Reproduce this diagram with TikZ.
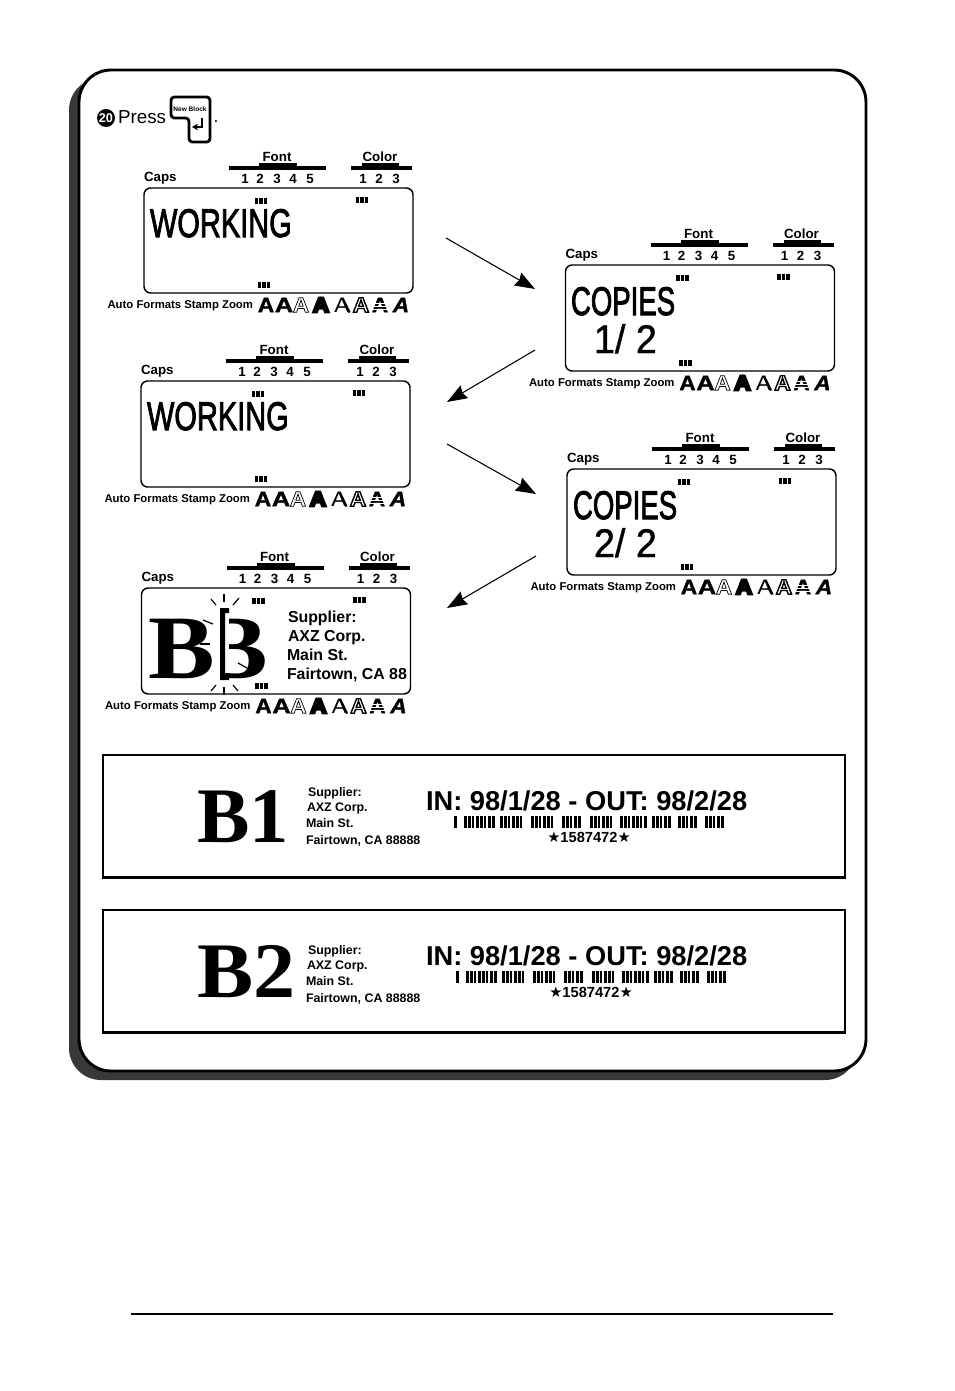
\documentclass[tikz,border=0pt]{standalone}
\usepackage{fontspec}
\setmainfont{Liberation Sans}
\newfontfamily\labelserif{Liberation Serif}
\newfontfamily\starfont{DejaVu Sans}
\usetikzlibrary{arrows.meta,positioning}
\newcommand{\strokeA}[2]{\special{pdf:code q #1 Tr #2 w}A\special{pdf:code Q}}
\newcommand{\thick}[2][0.75]{\special{pdf:code q 2 Tr #1 w}#2\special{pdf:code Q}}
\newcommand{\sz}[1]{\fontsize{#1}{#1}\selectfont}
\tikzset{
	txt/.style={inner sep=0pt,outer sep=0pt},
	lcdlabel/.style={txt,font=\sz{10}\bfseries},
	lcdnum/.style={txt,font=\sz{10}\bfseries},
	lcdbox/.style={draw,line width=1.1pt,rounded corners=5pt,inner sep=0pt,outer sep=0pt,minimum width=201.75pt,anchor=north west},
	lcdbig/.style={txt,anchor=base west,font=\sz{30},xscale=0.725,transform shape},
	lcdsmall/.style={txt,anchor=base west,font=\sz{11.9}\bfseries},
	glyph/.style={txt,font=\sz{15.7}\bfseries,xscale=1.08,transform shape},
	bar/.style={line width=2.4pt},
	flow/.style={line width=0.8pt,-{Stealth[length=15pt,width=11pt,inset=1.5pt]}},
	tape/.style={draw,line width=1.8pt,inner sep=0pt,outer sep=0pt,minimum width=556.5pt,minimum height=92pt,anchor=north west},
	tapesmall/.style={txt,anchor=base west,font=\sz{9.3}\bfseries},
	tapehead/.style={txt,anchor=base west,font=\sz{20.45}\bfseries},
	tapebig/.style={txt,anchor=base west,font=\sz{59}\labelserif\bfseries},
}
\newcommand{\lcdpanel}[4]{
	\begin{scope}[shift={(#2,#3)}]
	\node[lcdbox,minimum height=#4*0.75pt] (#1) at (0,0) {};
	\node[lcdlabel,anchor=west] (#1caps) at (0,-10) {Caps};
	\node[lcdlabel] (#1font) at (133,-31) {Font};
	\node[lcdlabel] (#1color) at (236,-31) {Color};
	\draw[bar] (85,-20) -- (182,-20);
	\draw[bar] (115,-23) -- (153,-23);
	\draw[bar] (207,-20) -- (268,-20);
	\draw[bar] (218,-23) -- (255,-23);
	\foreach \n/\px in {1/101,2/116,3/133,4/149,5/166}
		\node[lcdnum] (#1f\n) at (\px,-9) {\n};
	\foreach \n/\px in {1/219,2/235,3/252}
		\node[lcdnum] (#1c\n) at (\px,-9) {\n};
	\foreach \px/\py in {117/13,218/12,120/#4-8}
		\foreach \k in {-4.5,0,4.5}
			\fill (\px+\k-1.9,\py-3) rectangle (\px+\k+1.9,\py+3);
	\node[txt,anchor=east,font=\sz{8.5}\bfseries] (#1auto) at (109,#4+13) {Auto Formats Stamp Zoom};
	\node[glyph] (#1a) at (122,#4+12) {\strokeA{2}{0.25}};
	\node[glyph,xscale=1.12] (#1b) at (140,#4+12) {\strokeA{2}{0.25}};
	\node[glyph] (#1d) at (157,#4+12) {\strokeA{1}{0.5}};
	\node[glyph] (#1e) at (177,#4+12) {\strokeA{2}{1.8}};
	\node[glyph,font=\sz{15.7}] (#1g) at (198,#4+12) {A};
	\draw[line width=1.7pt] (198.5,#4+5) -- (205.5,#4+19.5);
	\node[glyph] (#1h) at (217,#4+12) {\strokeA{1}{1}};
	\node[glyph] (#1i) at (236,#4+12) {\strokeA{2}{0.25}};
	\foreach \k in {-2,1,4}
		\draw[white,line width=0.5pt] (226,#4+12+\k) -- (246,#4+12+\k);
	\node[glyph,font=\sz{15.7}\bfseries\itshape] (#1j) at (257,#4+12) {\strokeA{2}{0.25}};
	\end{scope}
}
\newcommand{\barcode}[2]{
	\begin{scope}[shift={(#1,#2)}]
	\fill (0,0) rectangle (2.5,12);
	\foreach \g/\n in {10/8,46/6,77/6,108/5,136/6,166/7,198/5,224/5,251/5}
		\foreach \k in {1,...,\n}{
			\pgfmathsetmacro{\wd}{ifthenelse(mod(\k,3)==0,1.5,3.2)}
			\fill (\g+4*\k-4,0) rectangle (\g+4*\k-4+\wd,12);
		}
	\end{scope}
}
\newcommand{\tapelabel}[7]{
	\node[tape] (#1) at (103,#2) {};
	\node[tapebig,#4] (#1big) at (197,#2+87) {#5};
	\node[tapesmall] (#1sup) at (308,#2+#3+42) {Supplier:};
	\node[tapesmall] (#1corp) at (307,#2+#3+57) {AXZ Corp.};
	\node[tapesmall] (#1st) at (306,#2+#3+73) {Main St.};
	\node[tapesmall] (#1town) at (306,#2+#3+90) {Fairtown, CA 88888};
	\node[tapehead] (#1dates) at (426,#2+55) {IN: 98/1/28 - OUT: 98/2/28};
	\barcode{#6}{#2+61}
	\node[txt,font=\sz{11}\bfseries] (#1code) at (#7,#2+82) {{\starfont\mdseries ★}1587472{\starfont\mdseries ★}};
}
\begin{document}
\begin{tikzpicture}[x=0.75pt,y=-0.75pt]
	\useasboundingbox (0,0) rectangle (954,1391);
	\fill[white] (0,0) rectangle (954,1391);
	\fill[black!78,rounded corners=24pt] (69,78) rectangle (857,1080);
	\draw[line width=2.2pt,fill=white,rounded corners=24pt] (79,70) rectangle (866,1071);

	\node[circle,fill=black,inner sep=0pt,minimum size=13.5pt,text=white,font=\sz{9.5}\bfseries] (stepno) at (106,118) {20};
	\node[txt,anchor=base west,font=\sz{14.1}] (press) at (118,124) {Press};
	\draw[line width=2.1pt,rounded corners=2.5pt] (171,97) -- (210,97) -- (210,142) -- (189,142) -- (189,118) -- (171,118) -- cycle;
	\node[txt,font=\sz{4.9}\bfseries] (keytext) at (190,109) {New Block};
	\coordinate (retA) at (202,118);
	\coordinate (retB) at (202,127);
	\coordinate (retC) at (192,127);
	\draw[line width=1.2pt,-{Stealth[length=4.5pt,width=5pt]}] (retA) -- (retB) -- (retC);
	\node[txt,font=\sz{9}\bfseries] (dot) at (216,122) {.};

	\lcdpanel{work}{144}{188}{105}
	\lcdpanel{worktwo}{141}{381}{106}
	\lcdpanel{result}{141.5}{588}{106}
	\lcdpanel{copya}{565.5}{265}{106}
	\lcdpanel{copyb}{567}{469}{106}

	\node[lcdbig] (worktxt) at (150,237) {\thick{WORKING}};
	\node[lcdbig] (worktwotxt) at (147,430) {\thick{WORKING}};
	\node[lcdbig,xscale=0.95] (copyatxt) at (571,315) {\thick{COPIES}};
	\node[lcdbig,xscale=0.95] (copybtxt) at (573,519) {\thick{COPIES}};
	\node[lcdbig,xscale=1.3] (countatxt) at (594,353) {\thick[0.35]{1/ 2}};
	\node[lcdbig,xscale=1.3] (countbtxt) at (594,557) {\thick[0.35]{2/ 2}};

	\node[txt,anchor=base,font=\sz{68}\labelserif\bfseries,xscale=1.1,transform shape] (bigb) at (182,678) {B};
	\begin{scope}
		\clip (229,600) rectangle (280,690);
		\node[txt,anchor=base,font=\sz{68}\labelserif\bfseries,xscale=1.1,transform shape] (bigc) at (235,678) {B};
	\end{scope}
	\fill (220,608) -- (229,608) -- (229,613) -- (225,613) -- (225,673) -- (229,673) -- (229,680) -- (220,680) -- cycle;
	\foreach \ax/\ay/\bx/\by in {224/594/224/602,211/599/216/605,239/598/233/605,211/691/216/685,224/687/224/695,238/691/233/685,203/620/213/624,200/644/210/644,238/663/247/668}
		\draw[line width=0.9pt] (\ax,\ay) -- (\bx,\by);
	\node[lcdsmall] (rsup) at (288,622) {Supplier:};
	\node[lcdsmall] (rcorp) at (288,641) {AXZ Corp.};
	\node[lcdsmall] (rst) at (287,660) {Main St.};
	\node[lcdsmall] (rtown) at (287,679) {Fairtown, CA 88};

	\coordinate (flowas) at (446,238);
	\coordinate (flowae) at (535,289);
	\coordinate (flowbs) at (535,350);
	\coordinate (flowbe) at (447,402);
	\coordinate (flowcs) at (447,444);
	\coordinate (flowce) at (536,494);
	\coordinate (flowds) at (536,556);
	\coordinate (flowde) at (447,608);
	\draw[flow] (flowas) -- (flowae);
	\draw[flow] (flowbs) -- (flowbe);
	\draw[flow] (flowcs) -- (flowce);
	\draw[flow] (flowds) -- (flowde);

	\tapelabel{tapeone}{755}{-1}{}{B1}{454}{589}
	\tapelabel{tapetwo}{910}{2}{xscale=1.07,transform shape}{B2}{456}{591}

	\coordinate (rulea) at (131,1314);
	\coordinate (ruleb) at (833,1314);
	\draw[line width=1.1pt] (rulea) -- (ruleb);
\end{tikzpicture}
\end{document}
